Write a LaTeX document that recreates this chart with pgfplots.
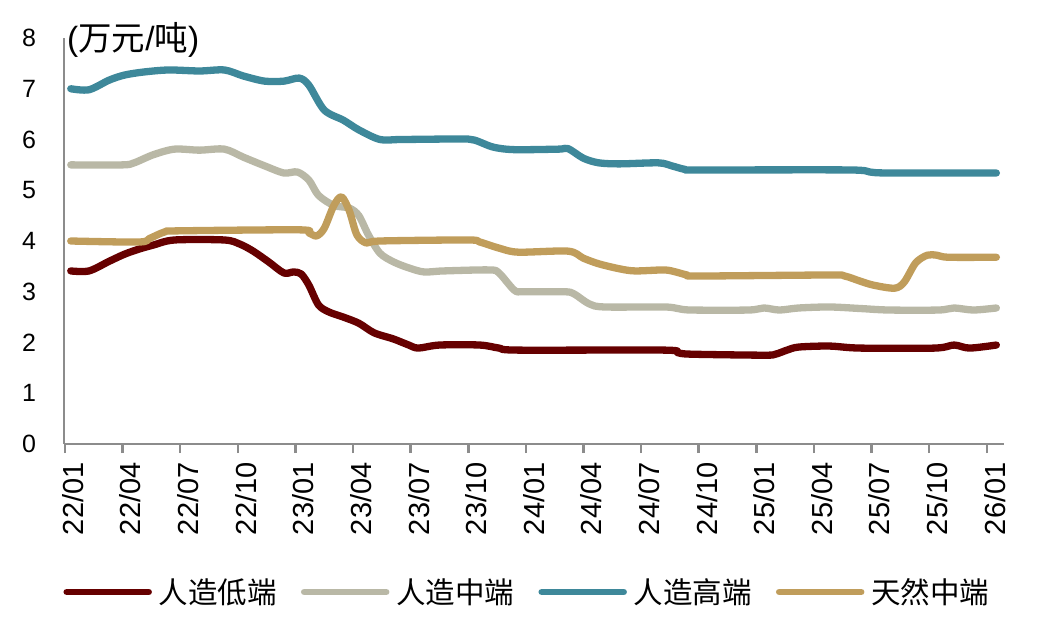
\documentclass[border=0pt]{standalone}
\usepackage{pgfplots}
\pgfplotsset{compat=1.18}
\usepackage{pgfplotstable}
\usepackage{fontspec}
\setmainfont{Liberation Sans}
\newfontfamily\cjk{Noto Sans CJK SC}

\definecolor{cLow}{HTML}{660000}
\definecolor{cMid}{HTML}{B9B8A6}
\definecolor{cHigh}{HTML}{3E889A}
\definecolor{cNat}{HTML}{C09D5B}
\definecolor{axgray}{HTML}{8C8C8C}

% month index: 0 = 22/01
\pgfplotstableread{
m v
0.3 3.41
1.25 3.41
2.3 3.60
3.1 3.74
3.85 3.84
4.6 3.92
5.7 4.02
8.3 4.02
9.1 3.94
9.8 3.80
10.6 3.59
11.4 3.37
11.9 3.39
12.3 3.35
12.7 3.13
13.2 2.74
13.75 2.60
14.5 2.50
15.3 2.38
16.1 2.19
17.1 2.07
17.9 1.95
18.4 1.89
19.5 1.95
21.6 1.95
22.6 1.89
23.6 1.85
31.2 1.85
31.9 1.80
32.6 1.77
36.4 1.75
37.0 1.77
37.6 1.85
38.2 1.91
39.8 1.93
41.4 1.89
45.3 1.89
46.3 1.95
47.1 1.89
48.5 1.95
}\lowtab

\pgfplotstableread{
m v
0.3 5.50
3.0 5.50
3.6 5.54
4.6 5.70
5.7 5.81
7.0 5.79
8.3 5.81
9.3 5.65
10.4 5.48
11.4 5.34
12.1 5.36
12.7 5.20
13.2 4.90
14.0 4.70
14.8 4.65
15.3 4.50
15.8 4.12
16.4 3.76
17.1 3.59
17.9 3.47
18.7 3.39
19.7 3.41
22.1 3.43
22.6 3.37
23.4 3.03
23.9 3.00
26.0 3.00
26.5 2.96
27.3 2.76
28.1 2.70
31.2 2.70
31.9 2.67
32.6 2.64
35.6 2.64
36.4 2.68
37.2 2.64
38.2 2.68
39.8 2.70
41.4 2.67
42.9 2.64
45.5 2.64
46.3 2.68
47.3 2.64
48.5 2.68
}\midtab

\pgfplotstableread{
m v
0.3 7.00
1.25 6.98
2.3 7.17
3.1 7.27
4.1 7.33
5.4 7.37
7.0 7.35
8.3 7.37
9.3 7.25
10.4 7.15
11.4 7.15
12.2 7.21
12.7 7.07
13.5 6.58
14.5 6.38
15.3 6.19
16.4 6.00
17.5 6.00
20.5 6.01
21.3 5.99
22.3 5.85
23.4 5.80
25.7 5.81
26.2 5.82
27.0 5.63
27.8 5.54
28.9 5.52
30.9 5.54
31.6 5.48
32.3 5.41
33.0 5.40
40.8 5.40
41.9 5.36
42.9 5.34
48.5 5.34
}\hightab

\pgfplotstableread{
m v
0.3 4.00
3.85 3.98
4.4 4.05
5.2 4.18
5.9 4.20
12.2 4.22
12.7 4.16
13.1 4.10
13.5 4.25
14.0 4.70
14.4 4.87
14.8 4.60
15.2 4.12
15.7 3.96
16.4 4.00
21.0 4.02
21.6 3.98
22.6 3.86
23.6 3.78
26.2 3.80
27.0 3.66
27.8 3.55
28.9 3.45
29.7 3.41
31.2 3.43
31.8 3.39
32.4 3.33
33.0 3.31
39.8 3.33
40.6 3.31
41.4 3.21
42.1 3.13
43.2 3.07
43.7 3.19
44.3 3.57
44.9 3.72
45.4 3.72
46.0 3.68
48.5 3.68
}\nattab

\begin{document}
\begin{tikzpicture}
\begin{axis}[
  scale only axis, width=940pt, height=406pt,
  xmin=-0.05, xmax=48.9, ymin=0, ymax=8,
  axis x line=bottom, axis y line=left,
  axis line style={axgray, line width=2.8pt, -},
  xtick={0,3,...,48},
  xticklabels={22/01,22/04,22/07,22/10,23/01,23/04,23/07,23/10,24/01,24/04,24/07,24/10,25/01,25/04,25/07,25/10,26/01},
  ytick={0,1,...,8},
  x tick style={axgray, line width=2.5pt},
  xtick align=outside, major tick length=9pt,
  y tick style={draw=none},
  /pgf/number format/assume math mode=true,
  tick label style={black},
  xticklabel style={font=\fontsize{29}{32}\selectfont, xshift=8pt, yshift=-6pt, rotate=90, anchor=east},
  yticklabel style={font=\fontsize{25}{28}\selectfont, xshift=-20pt},
  legend columns=4,
  legend style={draw=none, at={(0.493,-0.3645)}, anchor=center,
    font=\cjk\fontsize{29.5}{32}\selectfont,
    /tikz/every odd column/.append style={column sep=5pt},
    /tikz/every even column/.append style={column sep=22pt},
    inner sep=0pt},
  legend image code/.code={\draw[#1, line width=6.5pt, line cap=round] (0pt,0pt) -- (82pt,0pt);},
  every axis plot/.append style={line width=7.3pt, line cap=round, line join=round, smooth},
  clip=false,
]
\addplot[cLow] table[x=m, y=v] {\lowtab};
\addlegendentry{人造低端}
\addplot[cMid] table[x=m, y=v] {\midtab};
\addlegendentry{人造中端}
\addplot[cHigh] table[x=m, y=v] {\hightab};
\addlegendentry{人造高端}
\addplot[cNat] table[x=m, y=v] {\nattab};
\addlegendentry{天然中端}
\node[anchor=west, inner sep=0pt, xshift=2pt, yshift=-2pt, font=\fontsize{33.5}{36}\selectfont] at (axis cs:0,8) {(\cjk 万元\rmfamily/\cjk 吨\rmfamily)};
\end{axis}
\pgfresetboundingbox
\path[use as bounding box] (current axis.origin) ++(-65pt,-179pt) rectangle ++(1052pt,623pt);
\end{tikzpicture}
\end{document}
